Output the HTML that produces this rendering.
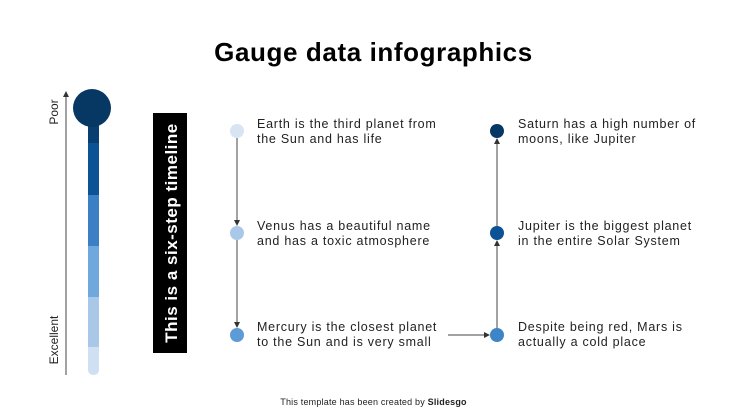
<!DOCTYPE html>
<html><head><style>
body{margin:0;width:747px;height:420px;background:#fff;font-family:"Liberation Sans",sans-serif;position:relative;overflow:hidden;color:#111}
.a{position:absolute}
.t{font-size:12.5px;line-height:15px;color:#222;letter-spacing:0.75px;white-space:nowrap}
</style></head><body>
<div class="a" style="left:0;width:747px;top:37px;text-align:center;font-size:26px;font-weight:bold;color:#000;letter-spacing:0.6px">Gauge data infographics</div>
<svg class="a" style="left:0;top:0" width="747" height="420">
<defs><marker id="m" markerWidth="6" markerHeight="6" refX="5" refY="3" orient="auto"><path d="M0,0L6,3L0,6z" fill="#333"/></marker></defs>
<line x1="66" y1="375" x2="66" y2="92" stroke="#444" stroke-width="1" marker-end="url(#m)"/>
<rect x="88" y="340" width="11" height="35" rx="5" fill="#cfe0f3"/>
<rect x="88" y="297" width="11" height="50" fill="#a9c8e8"/>
<rect x="88" y="246" width="11" height="51" fill="#6fa8dc"/>
<rect x="88" y="195" width="11" height="51" fill="#3d7fc4"/>
<rect x="88" y="143" width="11" height="52" fill="#0b5394"/>
<rect x="88" y="120" width="11" height="23" fill="#083e70"/>
<circle cx="92" cy="108" r="19" fill="#073763"/>
<rect x="153" y="113" width="34" height="240" fill="#000"/>
<text transform="translate(177,233) rotate(-90)" text-anchor="middle" fill="#fff" font-size="17" font-weight="bold" font-family="Liberation Sans" letter-spacing="0.5">This is a six-step timeline</text>
<line x1="237" y1="138" x2="237" y2="225" stroke="#444" marker-end="url(#m)"/>
<line x1="237" y1="240" x2="237" y2="327" stroke="#444" marker-end="url(#m)"/>
<line x1="448" y1="335" x2="489" y2="335" stroke="#444" marker-end="url(#m)"/>
<line x1="497" y1="328" x2="497" y2="241" stroke="#444" marker-end="url(#m)"/>
<line x1="497" y1="226" x2="497" y2="139" stroke="#444" marker-end="url(#m)"/>
<circle cx="237" cy="131" r="7" fill="#d6e4f3"/>
<circle cx="237" cy="233" r="7" fill="#a9c8e8"/>
<circle cx="237" cy="335" r="7" fill="#5d9bd6"/>
<circle cx="497" cy="335" r="7" fill="#3d85c6"/>
<circle cx="497" cy="233" r="7" fill="#0b5394"/>
<circle cx="497" cy="131" r="7" fill="#073763"/>
<text transform="translate(58,112) rotate(-90)" text-anchor="middle" font-size="12" font-family="Liberation Sans" fill="#222">Poor</text>
<text transform="translate(58,340) rotate(-90)" text-anchor="middle" font-size="12" font-family="Liberation Sans" fill="#222">Excellent</text>
</svg>
<div class="a t" style="left:257px;top:117px">Earth is the third planet from<br>the Sun and has life</div>
<div class="a t" style="left:257px;top:219px">Venus has a beautiful name<br>and has a toxic atmosphere</div>
<div class="a t" style="left:257px;top:320px">Mercury is the closest planet<br>to the Sun and is very small</div>
<div class="a t" style="left:518px;top:117px">Saturn has a high number of<br>moons, like Jupiter</div>
<div class="a t" style="left:518px;top:219px">Jupiter is the biggest planet<br>in the entire Solar System</div>
<div class="a t" style="left:518px;top:320px">Despite being red, Mars is<br>actually a cold place</div>
<div class="a" style="left:0;width:747px;top:397px;text-align:center;font-size:9px;color:#222;letter-spacing:0.2px">This template has been created by <b>Slidesgo</b></div>
</body></html>
